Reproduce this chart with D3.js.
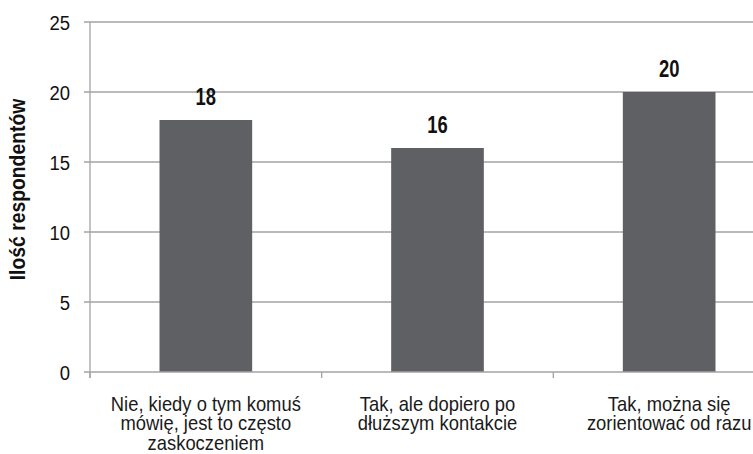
<!DOCTYPE html>
<html>
<head>
<meta charset="utf-8">
<script src="https://cdn.jsdelivr.net/npm/d3@7/dist/d3.min.js"></script>
<style>
  html, body { margin: 0; padding: 0; background: #fff; }
  svg { display: block; font-family: "Liberation Sans", Arial, sans-serif; }
</style>
</head>
<body>
<svg id="chart" width="753" height="454"></svg>
<script>
// Survey answers and number of respondents
const categories = [
  ["Nie, kiedy o tym komuś", "mówię, jest to często", "zaskoczeniem"],
  ["Tak, ale dopiero po", "dłuższym kontakcie"],
  ["Tak, można się", "zorientować od razu"]
];
const values = [18, 16, 20];
const yTicks = [0, 5, 10, 15, 20, 25];
const yTitle = "Ilość respondentów";

const svg = d3.select("#chart");
const W = 753;
const plotLeft = 90, plotRight = 785, plotTop = 22, plotBottom = 372;

const keys = categories.map((c, i) => i);
const x = d3.scaleBand().domain(keys).range([plotLeft, plotRight])
  .paddingInner(0.6).paddingOuter(0.3);
const y = d3.scaleLinear().domain([0, 25]).range([plotBottom, plotTop]);

const gridColor = "#a3a3a3";
const barColor = "#5f6064";

// horizontal gridlines (with short outward tick)
svg.append("g").selectAll("line").data(yTicks.filter(t => t > 0)).join("line")
  .attr("x1", plotLeft - 6).attr("x2", W)
  .attr("y1", d => y(d)).attr("y2", d => y(d))
  .attr("stroke", gridColor).attr("stroke-width", 1.3);

// bars
svg.append("g").selectAll("rect").data(values).join("rect")
  .attr("x", (d, i) => x(i))
  .attr("width", x.bandwidth())
  .attr("y", d => y(d))
  .attr("height", d => y(0) - y(d))
  .attr("fill", barColor);

// value axis line
svg.append("line")
  .attr("x1", plotLeft).attr("x2", plotLeft)
  .attr("y1", y(25)).attr("y2", plotBottom + 6)
  .attr("stroke", gridColor).attr("stroke-width", 1.3);

// category axis line and dividers
svg.append("line")
  .attr("x1", plotLeft - 6).attr("x2", W)
  .attr("y1", plotBottom).attr("y2", plotBottom)
  .attr("stroke", gridColor).attr("stroke-width", 1.3);
const step = x.step();
svg.append("g").selectAll("line").data(keys).join("line")
  .attr("x1", d => x(d) - x.paddingOuter() * step)
  .attr("x2", d => x(d) - x.paddingOuter() * step)
  .attr("y1", plotBottom).attr("y2", plotBottom + 6)
  .attr("stroke", gridColor).attr("stroke-width", 1.3);

// y tick labels
svg.append("g").selectAll("text").data(yTicks).join("text")
  .attr("transform", d => `translate(70,${y(d)}) scale(0.88,1)`)
  .attr("text-anchor", "end")
  .attr("dy", "0.36em")
  .attr("font-size", 21)
  .attr("fill", "#111")
  .text(d => d);

// value labels above bars
svg.append("g").selectAll("text").data(values).join("text")
  .attr("transform", (d, i) => `translate(${x(i) + x.bandwidth() / 2},${y(d) - 15}) scale(0.8,1)`)
  .attr("text-anchor", "middle")
  .attr("font-size", 23)
  .attr("font-weight", "bold")
  .attr("fill", "#111")
  .text(d => d);

// category labels, one multi-line text per category
const catText = svg.append("g").selectAll("text").data(categories).join("text")
  .attr("transform", (d, i) => `translate(${x(i) + x.bandwidth() / 2},411) scale(0.92,1)`)
  .attr("text-anchor", "middle")
  .attr("font-size", 20)
  .attr("fill", "#1a1a1a");
catText.selectAll("tspan").data(d => d).join("tspan")
  .attr("x", 0)
  .attr("dy", (d, j) => j === 0 ? 0 : 19.5)
  .text(d => d);

// y axis title
svg.append("text")
  .attr("transform", `translate(25,${(92 + 287) / 2}) rotate(-90) scale(0.9,1)`)
  .attr("text-anchor", "middle")
  .attr("font-size", 21.5)
  .attr("font-weight", "bold")
  .attr("fill", "#111")
  .text(yTitle);
</script>
</body>
</html>
